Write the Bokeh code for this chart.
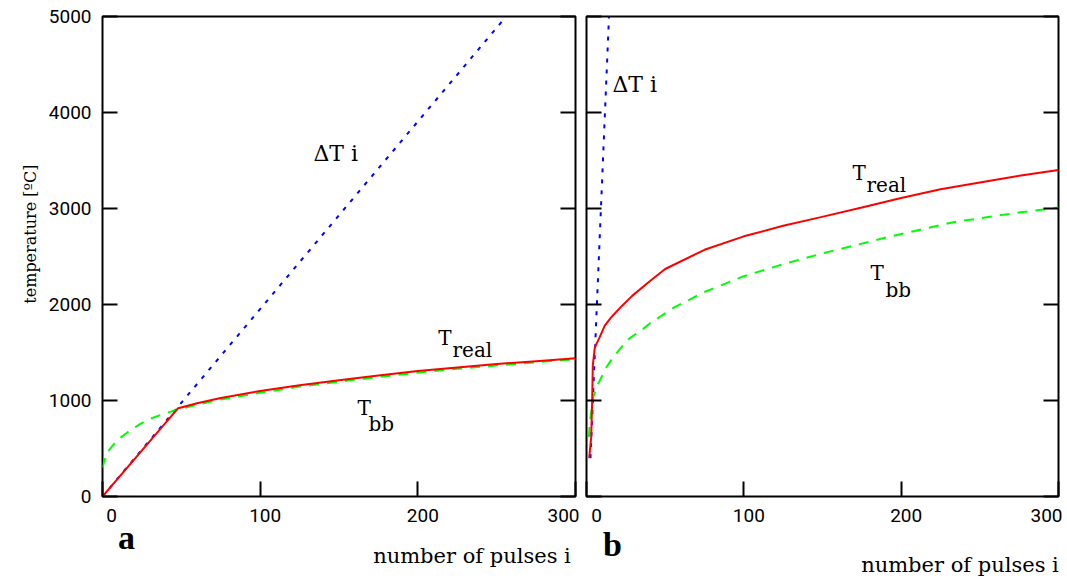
import math
from bokeh.plotting import figure
from bokeh.models import Range1d, LinearAxis, FixedTicker, Label
from bokeh.layouts import row
from bokeh.embed import file_html
from bokeh.resources import INLINE

# ---------------- data ----------------
x_ticks = [0, 100, 200, 300]
x_tick_labels = ["0", "100", "200", "300"]
y_ticks = [0, 1000, 2000, 3000, 4000, 5000]

# panel a
a_dT_i = [0, 256]
a_dT = [0, 5000]
a_real_i = [0, 48, 60, 75, 100, 125, 150, 175, 200, 225, 250, 275, 300]
a_real_T = [0, 920, 972, 1025, 1100, 1160, 1212, 1260, 1308, 1345, 1380, 1410, 1440]
a_bb_i = [0, 1, 3, 9, 16, 24, 30, 39, 47, 60, 75, 100, 125, 150, 175, 200, 225, 250, 275, 300]
a_bb_T = [300, 360, 460, 583, 670, 757, 809, 861, 903, 955, 1010, 1080, 1145, 1195, 1245,
          1290, 1330, 1365, 1398, 1430]

# panel b
b_dT_i = [2.5, 14.3]
b_dT = [400, 5000]
b_real_i = [1.7, 3.0, 3.6, 4.0, 5.3, 8.4, 11.6, 15.9, 22.2, 29, 40, 50, 75, 100, 125, 149,
            175, 200, 225, 250, 275, 300]
b_real_T = [400, 620, 1000, 1365, 1555, 1660, 1780, 1870, 1980, 2090, 2240, 2370, 2570, 2710,
            2820, 2910, 3010, 3110, 3200, 3270, 3340, 3400]
b_bb_i = [1.5, 2.1, 4.2, 7.4, 12.7, 16.9, 22.2, 27.5, 36, 40, 49.5, 56, 75, 100, 125, 149,
          191, 233, 276, 300]
b_bb_T = [620, 760, 1034, 1174, 1347, 1451, 1555, 1650, 1746, 1800, 1903, 1972, 2130, 2295,
          2420, 2528, 2700, 2857, 2961, 3010]

x_label = "number of pulses i"
y_label = "temperature [ºC]"
panel_letters = ["a", "b"]

# ---------------- styling ----------------
NUM_FONT = "Roboto"
SERIF = "DejaVu Serif"
BLUE = "#0000ff"
RED = "#ff0000"
GREEN = "#00ff00"


def base_axis(ax, ticks):
    ax.ticker = FixedTicker(ticks=ticks)
    ax.axis_line_color = None
    ax.major_tick_in = 15
    ax.major_tick_out = 0
    ax.major_tick_line_color = "black"
    ax.major_tick_line_width = 2
    ax.minor_tick_line_color = None


def no_labels(ax):
    ax.major_label_text_font_size = "0px"
    ax.major_label_standoff = 0


def text_axis(p, side, ticks, labels, font, size, style, standoff, orientation="horizontal"):
    ax = LinearAxis(ticker=FixedTicker(ticks=ticks),
                    major_label_overrides=dict(zip(ticks, labels)))
    ax.axis_line_color = None
    ax.major_tick_line_color = None
    ax.minor_tick_line_color = None
    ax.major_tick_in = 0
    ax.major_tick_out = 0
    ax.major_label_text_font = font
    ax.major_label_text_font_size = size
    ax.major_label_text_font_style = style
    ax.major_label_text_color = "black"
    ax.major_label_standoff = standoff
    ax.major_label_orientation = orientation
    p.add_layout(ax, side)
    return ax


def make_panel(frame_w, left, right, num_offs, letter, letter_px, letter_so,
               title_right_px, title_so):
    p = figure(frame_width=frame_w, frame_height=480,
               x_range=Range1d(0, 300), y_range=Range1d(0, 5000),
               output_backend="svg", toolbar_location=None,
               min_border_left=left, min_border_right=right,
               min_border_top=16, min_border_bottom=82)
    p.grid.visible = False
    p.outline_line_color = "black"
    p.outline_line_width = 2
    p.background_fill_color = "white"
    p.border_fill_color = "white"

    base_axis(p.xaxis[0], x_ticks)
    no_labels(p.xaxis[0])
    base_axis(p.yaxis[0], y_ticks)
    ry = LinearAxis()
    base_axis(ry, y_ticks)
    no_labels(ry)
    p.add_layout(ry, "right")

    per = frame_w / 300.0
    # tick numbers, shifted like the original
    num_pos = [t + o / per for t, o in zip(x_ticks, num_offs)]
    text_axis(p, "below", num_pos, x_tick_labels, NUM_FONT, "19px", "normal", 12)
    # panel letter
    text_axis(p, "below", [letter_px / per], [letter], "Liberation Serif", "34px", "bold",
              letter_so)
    # axis title (right aligned near the frame's right edge)
    text_axis(p, "below", [(title_right_px - 98.5) / per], [x_label], SERIF, "21px",
              "normal", title_so)
    return p


def curves(p, dTi, dT, ri, rT, bi, bT):
    p.line(dTi, dT, line_color=BLUE, line_width=2, line_dash="4 7")
    p.line(bi, bT, line_color=GREEN, line_width=2, line_dash="10 8")
    p.line(ri, rT, line_color=RED, line_width=2)


def txt(p, x, y, s, size="20px"):
    p.add_layout(Label(x=x, y=y, text=s, text_font=SERIF, text_font_size=size,
                       text_align="left", text_baseline="alphabetic", text_color="black"))


# panel a
pa = make_panel(473, 102, 5, [9, 5, 5, -12], panel_letters[0], 24, -6, 468, -15)
ya = pa.yaxis[0]
ya.major_label_text_font = NUM_FONT
ya.major_label_text_font_size = "19px"
ya.major_label_text_color = "black"
ya.major_label_standoff = 11
# y-axis title, placed as the single label of a label-only axis
text_axis(pa, "left", [3458], [y_label], SERIF, "16px", "normal", 15,
          orientation=math.pi / 2)
curves(pa, a_dT_i, a_dT, a_real_i, a_real_T, a_bb_i, a_bb_T)
txt(pa, 133.8, 3573, "ΔT i", size="22px")
txt(pa, 213, 1646, "T")
txt(pa, 222, 1531, "real")
txt(pa, 161.7, 917, "T")
txt(pa, 168.7, 760, "bb")

# panel b
pb = make_panel(472, 6, 4, [10, 5, 5, -11], panel_letters[1], 26, 1, 472, -13)
no_labels(pb.yaxis[0])
curves(pb, b_dT_i, b_dT, b_real_i, b_real_T, b_bb_i, b_bb_T)
txt(pb, 16.5, 4292, "ΔT i", size="22px")
txt(pb, 169, 3365, "T")
txt(pb, 178, 3250, "real")
txt(pb, 180.5, 2323, "T")
txt(pb, 190, 2156, "bb")

layout = row(pa, pb)
open("out.html", "w").write(file_html(layout, INLINE))
